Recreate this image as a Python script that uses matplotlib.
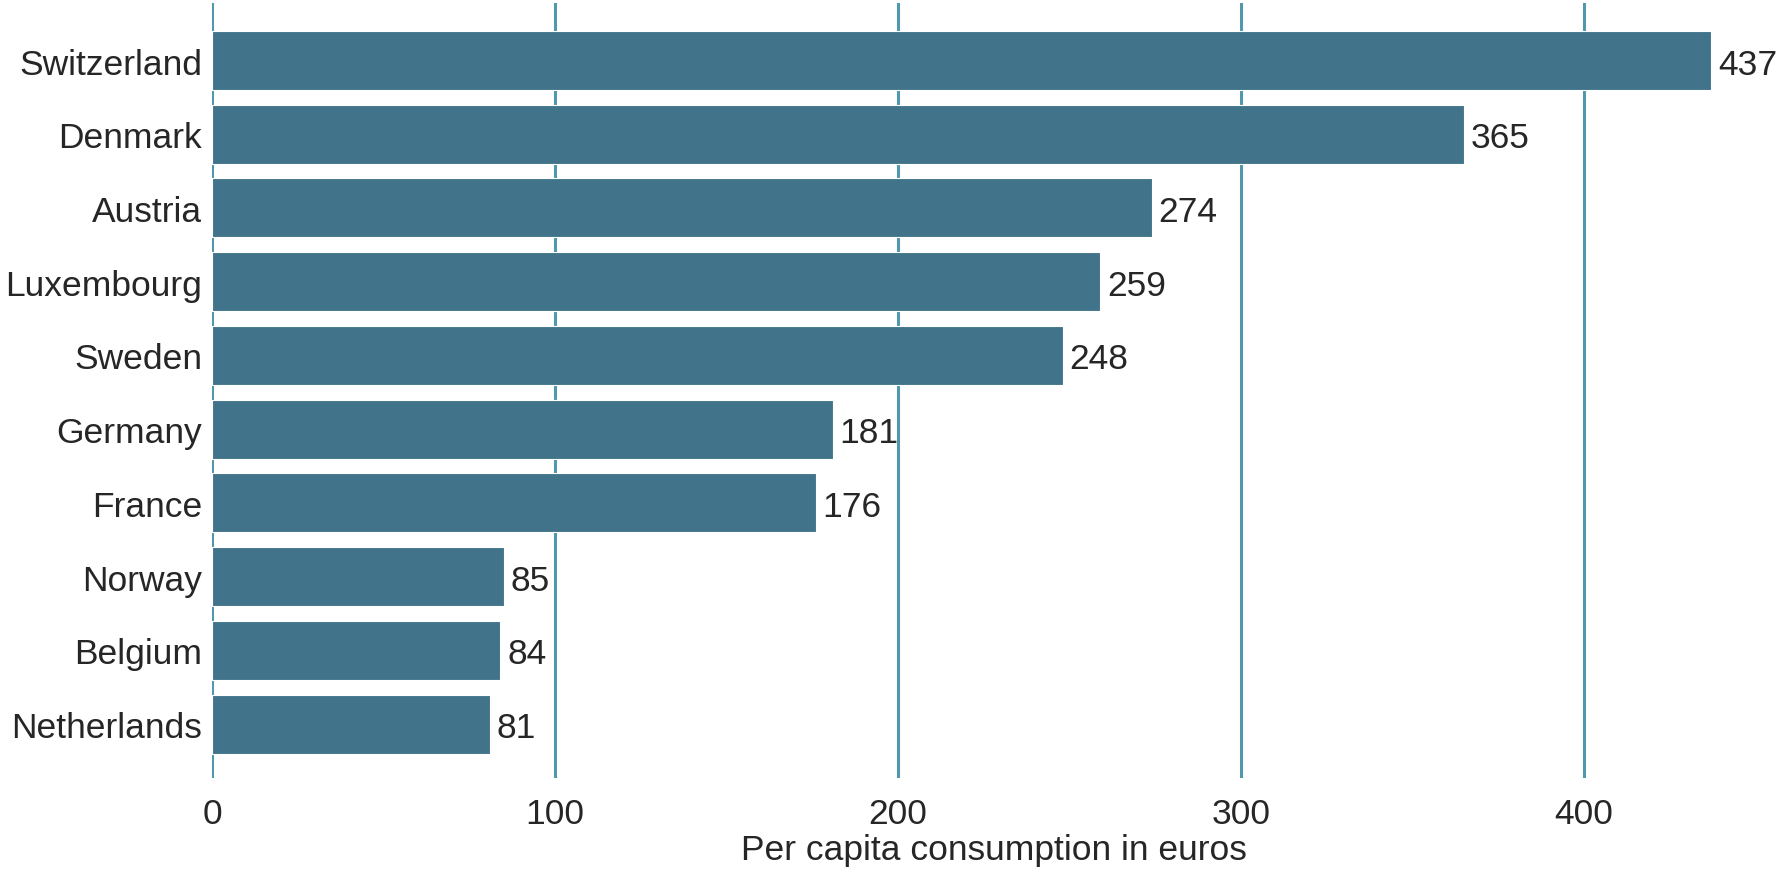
import numpy as np
import matplotlib
matplotlib.use('Agg')
import matplotlib.pyplot as plt

# data
countries = ['Switzerland', 'Denmark', 'Austria', 'Luxembourg', 'Sweden',
             'Germany', 'France', 'Norway', 'Belgium', 'Netherlands']
consumption = [437, 365, 274, 259, 248, 181, 176, 85, 84, 81]
x_ticks = [0, 100, 200, 300, 400]

plt.rcParams['font.family'] = ['Liberation Sans', 'DejaVu Sans']
text_color = '#262626'
bar_color = '#41748B'
grid_color = '#4F98AE'

fig = plt.figure(figsize=(17.76, 8.7), dpi=100)
ax = fig.add_axes([212/1776, 1 - 779/870, (1776 - 212)/1776, 775/870])

y = np.arange(len(countries))
bars = ax.barh(y, consumption, height=0.8, color=bar_color,
               edgecolor='white', linewidth=0.8, zorder=2)

# value labels next to each bar
for yi, v in zip(y, consumption):
    ax.annotate(str(v), xy=(v, yi), xytext=(5, 0), textcoords='offset points',
                ha='left', va='center_baseline', fontsize=25.5, color=text_color)

ax.set_xlim(0, 456)
ax.set_ylim(len(countries) - 1 + 0.73, -0.78)

ax.set_yticks(y)
ax.set_yticklabels(countries)
ax.set_xticks(x_ticks)

ax.grid(axis='x', color=grid_color, linewidth=2.2, zorder=0)
ax.grid(axis='y', visible=False)
ax.set_axisbelow(True)
for s in ax.spines.values():
    s.set_visible(False)

ax.tick_params(axis='both', length=0, labelsize=25.5, labelcolor=text_color)
ax.tick_params(axis='y', pad=7)
ax.tick_params(axis='x', pad=14)

ax.set_xlabel('Per capita consumption in euros', fontsize=25.5,
              color=text_color, labelpad=2)

fig.savefig('out.png', dpi=100)
